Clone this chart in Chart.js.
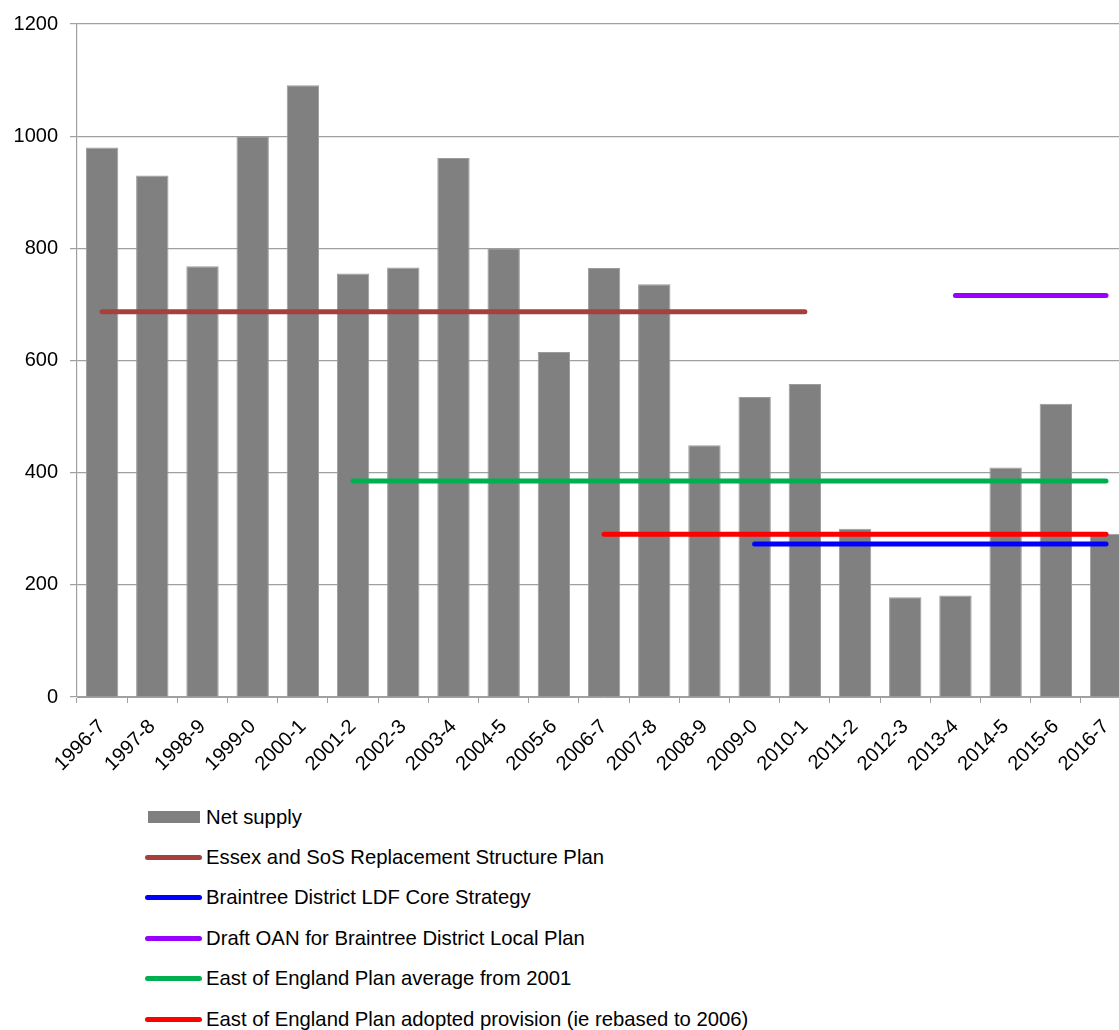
<!DOCTYPE html>
<html>
<head>
<meta charset="utf-8">
<script src="https://cdn.jsdelivr.net/npm/chart.js@4.4.1/dist/chart.umd.min.js"></script>
<style>
html,body{margin:0;padding:0;overflow:hidden;background:#fff;width:1119px;height:1030px}
#wrap{position:absolute;left:0;top:0;width:1135px;height:790px}
#legend{position:absolute;left:145px;top:797px;font-family:"Liberation Sans",Arial,sans-serif;font-size:20.3px;color:#000}
.item{height:40.4px;display:flex;align-items:center;white-space:nowrap}
.sym{width:57px;margin-right:4px;display:flex;align-items:center;justify-content:center}
</style>
</head>
<body>
<div id="wrap"><canvas id="c"></canvas></div>
<div id="legend"></div>
<script>
const years=['1996-7','1997-8','1998-9','1999-0','2000-1','2001-2','2002-3','2003-4','2004-5','2005-6','2006-7','2007-8','2008-9','2009-0','2010-1','2011-2','2012-3','2013-4','2014-5','2015-6','2016-7']
const netSupply=[980,930,768,1000,1091,755,766,961,800,615,765,736,449,535,558,300,178,181,409,523,291]
const essexPlan=[687,687,687,687,687,687,687,687,687,687,687,687,687,687,687,null,null,null,null,null,null]
const braintreeLDF=[null,null,null,null,null,null,null,null,null,null,null,null,null,273,273,273,273,273,273,273,273]
const draftOAN=[null,null,null,null,null,null,null,null,null,null,null,null,null,null,null,null,null,716,716,716,716]
const eastAverage=[null,null,null,null,null,385,385,385,385,385,385,385,385,385,385,385,385,385,385,385,385]
const eastAdopted=[null,null,null,null,null,null,null,null,null,null,290,290,290,290,290,290,290,290,290,290,290]
const yTicks=[0,200,400,600,800,1000,1200]

const font={family:'"Liberation Sans", Arial, sans-serif',size:20}
const gridGray='#a0a0a0'

function lineSet(label,data,color){
return {type:'line',label:label,data:data,borderColor:color,backgroundColor:color,borderWidth:5,
borderCapStyle:'round',pointRadius:0,spanGaps:false,order:0}
}

const datasets=[
{type:'bar',label:'Net supply',data:netSupply,backgroundColor:'#808080',borderColor:'#9c9c9c',borderWidth:1,
barPercentage:0.645,categoryPercentage:1,order:1},
lineSet('Essex and SoS Replacement Structure Plan',essexPlan,'#a6403d'),
lineSet('Braintree District LDF Core Strategy',braintreeLDF,'#0000ff'),
lineSet('Draft OAN for Braintree District Local Plan',draftOAN,'#9900ff'),
lineSet('East of England Plan average from 2001',eastAverage,'#00b050'),
lineSet('East of England Plan adopted provision (ie rebased to 2006)',eastAdopted,'#ff0000')
]

new Chart(document.getElementById('c'),{
type:'bar',
data:{labels:years,datasets:datasets},
options:{
responsive:true,maintainAspectRatio:false,animation:false,
layout:{padding:{top:24,left:0,right:0,bottom:0}},
plugins:{legend:{display:false},tooltip:{enabled:false}},
scales:{
x:{
grid:{drawOnChartArea:false,drawTicks:true,tickLength:6,color:gridGray},
border:{color:gridGray,width:1},
ticks:{color:'#000',font:font,maxRotation:45,minRotation:45,padding:12,autoSkip:false},
afterFit:function(s){s.height=93}
},
y:{
min:0,max:1200,
afterBuildTicks:function(s){s.ticks=yTicks.map(v=>({value:v}))},
grid:{color:gridGray,tickLength:7,lineWidth:1.2},
border:{color:gridGray,width:1.2},
ticks:{color:'#000',font:font,padding:12,callback:function(v){return String(v)}},
afterFit:function(s){s.width=77}
}
}
}
})

// legend as html, one row per series
const leg=document.getElementById('legend')
datasets.forEach(d=>{
let row=document.createElement('div')
row.className='item'
let sym=document.createElement('div')
sym.className='sym'
let mark=document.createElement('div')
if(d.type=='bar'){
mark.style.cssText='width:52px;height:12px;background:'+d.backgroundColor
}else{
mark.style.cssText='width:57px;height:5px;border-radius:3px;background:'+d.borderColor
}
sym.appendChild(mark)
let txt=document.createElement('span')
txt.innerText=d.label
row.appendChild(sym)
row.appendChild(txt)
leg.appendChild(row)
})
</script>
</body>
</html>
